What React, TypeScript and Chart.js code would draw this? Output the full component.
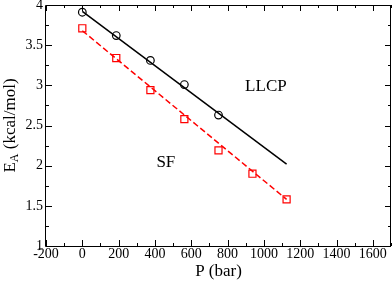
import React, { useEffect, useRef } from "react";
import { Chart, registerables } from "chart.js";

Chart.register(...registerables);

const pressure = [0, 187, 375, 562, 750, 937, 1125];
const llcpE = [3.91, 3.62, 3.31, 3.01, 2.63];
const sfE = [3.71, 3.34, 2.94, 2.58, 2.19, 1.9, 1.58];
const fitP = [0, 1125];
const llcpFit = [3.92, 2.02];
const sfFit = [3.68, 1.58];
const xMajorTicks = [-200, 0, 200, 400, 600, 800, 1000, 1200, 1400, 1600];
const yMajorTicks = [1, 1.5, 2, 2.5, 3, 3.5, 4];
const labels = [
  { text: "LLCP", x: 1011, y: 2.98 },
  { text: "SF", x: 460, y: 2.04 },
];

const SERIF = "'Liberation Serif', 'Times New Roman', serif";

const framePlugin = {
  id: "frame",
  afterDatasetsDraw(chart: any) {
    const { ctx, chartArea: a, scales } = chart;
    const xs = scales.x;
    const ys = scales.y;
    ctx.save();
    ctx.strokeStyle = "#000";
    ctx.lineWidth = 1;
    ctx.beginPath();
    ctx.rect(a.left - 0.5, a.top + 0.5, a.right - a.left, a.bottom - a.top);
    ctx.stroke();
    // ticks
    ctx.beginPath();
    for (let v = -200; v <= 1700; v += 100) {
      const px = Math.round(xs.getPixelForValue(v)) + 0.5;
      const len = v % 200 === 0 ? 6 : 3;
      ctx.moveTo(px, a.bottom);
      ctx.lineTo(px, a.bottom - len);
      ctx.moveTo(px, a.top);
      ctx.lineTo(px, a.top + len);
    }
    for (let v = 1; v <= 4.001; v += 0.25) {
      const py = Math.round(ys.getPixelForValue(v)) + 0.5;
      const len = Math.abs(v * 2 - Math.round(v * 2)) < 1e-6 ? 6 : 3;
      ctx.moveTo(a.left, py);
      ctx.lineTo(a.left + len, py);
      ctx.moveTo(a.right, py);
      ctx.lineTo(a.right - len, py);
    }
    ctx.stroke();
    // annotations
    ctx.fillStyle = "#000";
    ctx.font = `17px ${SERIF}`;
    ctx.textAlign = "center";
    ctx.textBaseline = "middle";
    for (const l of labels) {
      ctx.fillText(l.text, xs.getPixelForValue(l.x), ys.getPixelForValue(l.y));
    }
    // x title
    ctx.textBaseline = "alphabetic";
    ctx.fillText("P (bar)", (a.left + a.right) / 2, 276);
    // y title with subscript
    ctx.translate(14.5, (a.top + a.bottom) / 2);
    ctx.rotate(-Math.PI / 2);
    const big = `17px ${SERIF}`;
    const small = `12px ${SERIF}`;
    ctx.font = big;
    const wE = ctx.measureText("E").width;
    const wRest = ctx.measureText(" (kcal/mol)").width;
    ctx.font = small;
    const wA = ctx.measureText("A").width;
    const total = wE + wA + wRest;
    let x0 = -total / 2;
    ctx.textAlign = "left";
    ctx.font = big;
    ctx.fillText("E", x0, 0);
    x0 += wE;
    ctx.font = small;
    ctx.fillText("A", x0, 3);
    x0 += wA;
    ctx.font = big;
    ctx.fillText(" (kcal/mol)", x0, 0);
    ctx.restore();
  },
};

const noPad = (s: any) => {
  s.paddingTop = 0;
  s.paddingBottom = 0;
  s.paddingLeft = 0;
  s.paddingRight = 0;
};

export default function App() {
  const ref = useRef<HTMLCanvasElement>(null);
  useEffect(() => {
    document.body.style.margin = "0";
    const canvas = ref.current!;
    const chart = new Chart(canvas, {
      type: "scatter",
      data: {
        datasets: [
          {
            data: fitP.map((p, i) => ({ x: p, y: llcpFit[i] })),
            showLine: true,
            borderColor: "#000",
            borderWidth: 1.5,
            pointRadius: 0,
          },
          {
            data: fitP.map((p, i) => ({ x: p, y: sfFit[i] })),
            showLine: true,
            borderColor: "#ff0000",
            borderWidth: 1.5,
            borderDash: [6, 3],
            pointRadius: 0,
          },
          {
            data: llcpE.map((e, i) => ({ x: pressure[i], y: e })),
            showLine: false,
            pointStyle: "circle",
            pointRadius: 3.8,
            pointBorderColor: "#000",
            pointBackgroundColor: "rgba(0,0,0,0)",
            pointBorderWidth: 1.2,
          },
          {
            data: sfE.map((e, i) => ({ x: pressure[i], y: e })),
            showLine: false,
            pointStyle: "rect",
            pointRadius: 5,
            pointBorderColor: "#ff0000",
            pointBackgroundColor: "rgba(0,0,0,0)",
            pointBorderWidth: 1.2,
          },
        ],
      },
      options: {
        animation: false,
        responsive: false,
        layout: { autoPadding: false, padding: { top: 5, right: 1, left: 0, bottom: 0 } },
        plugins: { legend: { display: false }, tooltip: { enabled: false } },
        scales: {
          x: {
            type: "linear",
            min: -200,
            max: 1700,
            afterFit: (s: any) => {
              s.height = 35;
              noPad(s);
            },
            afterBuildTicks: (s: any) => {
              s.ticks = xMajorTicks.map((v) => ({ value: v }));
            },
            grid: { display: false, drawTicks: false },
            border: { display: false },
            ticks: {
              autoSkip: false,
              maxRotation: 0,
              padding: 0,
              color: "#000",
              font: { family: SERIF, size: 14 },
              callback: (v: any) => String(v),
            },
          },
          y: {
            type: "linear",
            min: 1,
            max: 4,
            afterFit: (s: any) => {
              s.width = 46;
              noPad(s);
            },
            afterBuildTicks: (s: any) => {
              s.ticks = yMajorTicks.map((v) => ({ value: v }));
            },
            grid: { display: false, drawTicks: false },
            border: { display: false },
            ticks: {
              autoSkip: false,
              padding: 3,
              color: "#000",
              font: { family: SERIF, size: 14 },
              callback: (v: any) => String(v),
            },
          },
        },
      },
      plugins: [framePlugin],
    });
    return () => chart.destroy();
  }, []);
  return <canvas ref={ref} width={392} height={281} style={{ display: "block" }} />;
}
